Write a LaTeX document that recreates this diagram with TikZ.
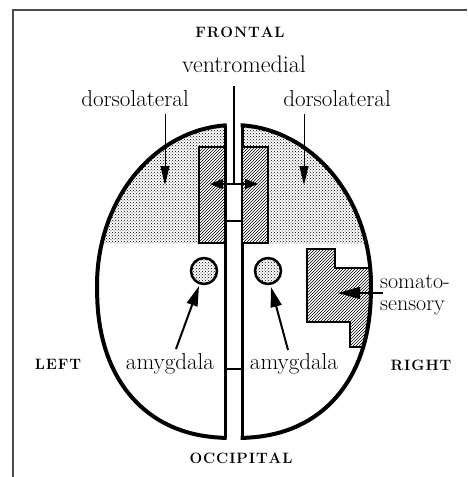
\documentclass[tikz,border=0pt]{standalone}
\usetikzlibrary{patterns,arrows.meta}
\makeatletter
\newcommand\spacedcaps[1]{\@tfor\sc@ch:=#1\do{\sc@ch\kern0.9pt}\unkern}
\makeatother
\newcommand\brainpath{plot[domain=0:180,samples=70] ({234+137*cos(\x)},{285-160*sin(\x)}) -- plot[domain=180:360,samples=70] ({234+137*cos(\x)*pow(abs(cos(\x))+0.0001,-0.13)},{285+153*pow(abs(sin(\x))+0.0001,0.87)}) -- cycle}
\tikzset{
  frameline/.style={draw=black!70, line width=2pt},
  outline/.style={draw, line width=4pt},
  wall/.style={draw, line width=3pt},
  rung/.style={draw, line width=2pt},
  stipple/.style={pattern=crosshatch dots, pattern color=black},
  hatchbox/.style={preaction={fill=white}, pattern=north east lines, draw, line width=2.5pt},
  amygcirc/.style={preaction={fill=white}, pattern=crosshatch dots, pattern color=black, draw, line width=2.5pt},
  lbl/.style={font=\fontsize{23}{26}\selectfont, inner sep=0pt, anchor=base},
  caps/.style={font=\fontsize{15}{17}\selectfont\bfseries, inner sep=0pt, anchor=base},
  thinarrow/.style={draw, line width=1pt, -{Triangle[length=19pt,width=9pt]}},
  vmarrow/.style={draw, line width=1.2pt, {Triangle[length=13pt,width=10pt]}-{Triangle[length=13pt,width=10pt]}},
  amygarrow/.style={draw, line width=2pt, -{Triangle[length=20pt,width=11pt]}},
  somaarrow/.style={draw, line width=1.5pt, -{Triangle[length=22pt,width=12pt]}}
}
\begin{document}
\begin{tikzpicture}[x=1pt,y=-1pt]
\useasboundingbox (0,0) rectangle (467,477);
% frame
\draw[frameline] (467,10) -- (12.5,10) -- (12.5,477);
% left hemisphere
\begin{scope}
  \clip (0,0) rectangle (226.5,477);
  \begin{scope}
    \clip \brainpath;
    \fill[stipple] (0,0) rectangle (467,243);
  \end{scope}
  \draw[outline] \brainpath;
\end{scope}
% right hemisphere
\begin{scope}
  \clip (240.5,0) rectangle (467,477);
  \begin{scope}
    \clip \brainpath;
    \fill[stipple] (0,0) rectangle (467,243);
    \path[hatchbox] (307,249) -- (335,249) -- (335,268) -- (390,268) -- (390,347) -- (350,347) -- (350,322) -- (307,322) -- cycle;
  \end{scope}
  \draw[outline] \brainpath;
\end{scope}
% medial walls
\draw[wall] (225,125.3) -- (225,437.9);
\draw[wall] (242,125.3) -- (242,437.9);
\draw[rung] (225,221) -- (242,221);
\draw[rung] (225,369) -- (242,369);
% ventromedial boxes
\path[hatchbox] (199,147) rectangle (225,243);
\path[hatchbox] (242,147) rectangle (268,243);
% amygdala
\path[amygcirc] (204,271) circle (13);
\path[amygcirc] (268,271) circle (13);
% labels
\node[caps] (frontal) at (240,37) {\spacedcaps{FRONTAL}};
\node[caps] (occ) at (241,463) {\spacedcaps{OCCIPITAL}};
\node[caps] (left) at (58,369) {\spacedcaps{LEFT}};
\node[caps] (right) at (421,370) {\spacedcaps{RIGHT}};
\node[lbl, font=\fontsize{24}{26}\selectfont] (vm) at (244,72) {ventromedial};
\node[lbl] (dlL) at (135,106) {dorsolateral};
\node[lbl] (dlR) at (337,106) {dorsolateral};
\node[lbl] (amL) at (170,369) {amygdala};
\node[lbl] (amR) at (294,369) {amygdala};
\node[lbl, anchor=base west, font=\fontsize{22}{24}\selectfont] (soma1) at (380,288) {somato-};
\node[lbl, anchor=base west, font=\fontsize{22}{24}\selectfont] (soma2) at (380,310) {sensory};
% arrow coordinates
\coordinate (dlLtail) at (165,114);
\coordinate (dlLtip) at (165,185);
\coordinate (dlRtail) at (304,114);
\coordinate (dlRtip) at (304,185);
\coordinate (vmtop) at (234,86);
\coordinate (vmfork) at (234,184);
\coordinate (vmL) at (210,184);
\coordinate (vmR) at (258,184);
\coordinate (amLtail) at (176,349);
\coordinate (amLtip) at (199,286);
\coordinate (amRtail) at (288,350);
\coordinate (amRtip) at (271,287);
\coordinate (somatail) at (383,293);
\coordinate (somatip) at (338,293);
% arrows
\draw[thinarrow] (dlLtail) -- (dlLtip);
\draw[thinarrow] (dlRtail) -- (dlRtip);
\draw[line width=1.2pt] (vmtop) -- (vmfork);
\draw[vmarrow] (vmL) -- (vmR);
\draw[amygarrow] (amLtail) -- (amLtip);
\draw[amygarrow] (amRtail) -- (amRtip);
\draw[somaarrow] (somatail) -- (somatip);
\end{tikzpicture}
\end{document}
